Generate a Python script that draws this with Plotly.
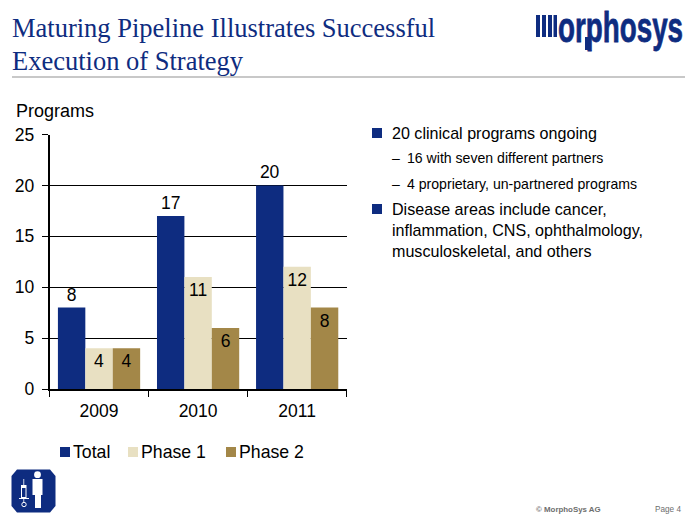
import plotly.graph_objects as go

categories = ["2009", "2010", "2011"]
total = [8, 17, 20]
phase1 = [4, 11, 12]
phase2 = [4, 6, 8]
y_ticks = [0, 5, 10, 15, 20, 25]

W, H = 697, 524
NAVY = "#0E2C80"
CREAM = "#E8E0C2"
BROWN = "#A38748"
SANS = "Liberation Sans, Arial, sans-serif"
SERIF = "Liberation Serif, Times New Roman, serif"

def px(x): return x / W
def py(y): return 1 - y / H

fig = go.Figure()
for name, vals, col, pos in [("Total", total, NAVY, "outside"),
                             ("Phase 1", phase1, CREAM, "inside"),
                             ("Phase 2", phase2, BROWN, "inside")]:
    fig.add_bar(name=name, x=categories, y=vals, marker=dict(color=col, line_width=0),
                text=vals, textposition=pos, insidetextanchor="end", cliponaxis=False,
                textangle=0, constraintext="none", showlegend=False,
                textfont=dict(family=SANS, size=17.5, color="#000000"))

ann = []
def text(x, y, s, size, color="#000000", family=SANS, anchor="left"):
    ann.append(dict(xref="paper", yref="paper", x=px(x), y=py(y), text=s, showarrow=False,
                    xanchor=anchor, yanchor="middle", align="left", borderpad=0, borderwidth=0,
                    font=dict(family=family, size=size, color=color)))

shapes = []
def rect(x0, y0, x1, y1, color):
    shapes.append(dict(type="rect", xref="paper", yref="paper", x0=px(x0), x1=px(x1),
                       y0=py(y0), y1=py(y1), fillcolor=color, line_width=0, layer="above"))

def path(points, color):
    d = "M" + " L".join(f"{px(a):.5f},{py(b):.5f}" for a, b in points) + " Z"
    shapes.append(dict(type="path", xref="paper", yref="paper", path=d, fillcolor=color,
                       line_width=0, layer="above"))

def circle(cx, cy, r, fill, line=None):
    shapes.append(dict(type="circle", xref="paper", yref="paper", x0=px(cx - r), x1=px(cx + r),
                       y0=py(cy + r), y1=py(cy - r), fillcolor=fill, layer="above",
                       line=dict(color=line or fill, width=1 if line else 0)))

# header
text(12, 28, "Maturing Pipeline Illustrates Successful", 26.5, NAVY, SERIF)
text(12, 61, "Execution of Strategy", 26.5, NAVY, SERIF)
rect(12, 76, 685, 78, "#C8C8C8")
text(16, 111, "Programs", 18)

# logo
for a, b in [(536, 540), (542, 546), (548, 552), (553.5, 557)]:
    rect(a, 15, b, 37, NAVY)
text(558, 27, "<b>orphosys</b>", 27.8, NAVY, SANS)
rect(585, 37, 591, 50, NAVY)

# bullets
rect(372, 128, 382, 138, NAVY)
text(392, 133, "20 clinical programs ongoing", 16.1)
text(392, 158, "–", 14)
text(407, 158, "16 with seven different partners", 14.1)
text(392, 184, "–", 14)
text(407, 184, "4 proprietary, un-partnered programs", 14.1)
rect(372, 204, 382, 214, NAVY)
text(392, 209, "Disease areas include cancer,", 16.1)
text(392, 230, "inflammation, CNS, ophthalmology,", 16.1)
text(392, 251, "musculoskeletal, and others", 16.1)

# legend
for x0, col, lab in [(60, NAVY, "Total"), (128, CREAM, "Phase 1"), (226, BROWN, "Phase 2")]:
    rect(x0, 447, x0 + 10, 457, col)
    text(x0 + 13, 452, lab, 17.7)

# footer
text(536, 509, "<b>© MorphoSys AG</b>", 7.9, "#6E6E6E")
text(655, 509, "Page 4", 8.2, "#6E6E6E")

# icon
path([(17, 469.5), (11.5, 476), (11.5, 506), (17, 512.5), (50, 512.5), (55.5, 506), (55.5, 476), (50, 469.5)], NAVY)
circle(37.5, 474.7, 3.4, "white")
rect(32.5, 479, 42.5, 495, "white")
rect(35, 495, 41, 508, "white")
rect(23.4, 479, 24.2, 485, "white")
path([(21, 485), (26.5, 485), (26.5, 498), (21, 498)], "white")
path([(22, 488), (25.5, 488), (25.5, 497), (22, 497)], NAVY)
rect(19, 498, 29, 499, "white")
rect(23.4, 499, 24.2, 502, "white")
circle(24, 504.5, 2.2, NAVY, "white")

fig.update_layout(
    width=W, height=H, margin=dict(l=0, r=0, t=0, b=0, autoexpand=False), autosize=False,
    paper_bgcolor="white", plot_bgcolor="white", barmode="group", bargap=0.17, bargroupgap=0,
    annotations=ann, shapes=shapes, showlegend=False,
    font=dict(family=SANS, size=17.5, color="#000000"),
    xaxis=dict(domain=[px(49.5), px(346.7)], type="category", tickson="boundaries", ticks="outside",
               ticklen=6, tickcolor="#000", showline=True, linecolor="#000", linewidth=1.5,
               showgrid=False, tickfont=dict(size=17.5), fixedrange=True, ticklabelstandoff=5),
    yaxis=dict(domain=[py(389), py(134.5)], range=[0, 25], tickvals=y_ticks, ticks="outside",
               ticklen=6, tickcolor="#000", showline=True, linecolor="#000", linewidth=1.5,
               gridcolor="#000", gridwidth=1.2, zeroline=False, tickfont=dict(size=17.5),
               fixedrange=True, layer="below traces", ticklabelstandoff=4),
)
css = ("html,body{margin:0;padding:0;overflow:hidden}"
       ".annotation-text[data-unformatted*='orphosys']{transform-box:fill-box;"
       "transform-origin:center;transform:scaleY(1.5);stroke:" + NAVY + ";stroke-width:0.5px}")
fig.write_html("out.html", config={"displayModeBar": False}, post_script=
    "var s=document.createElement('style');s.textContent=\"" + css +
    "\";document.head.appendChild(s);")
